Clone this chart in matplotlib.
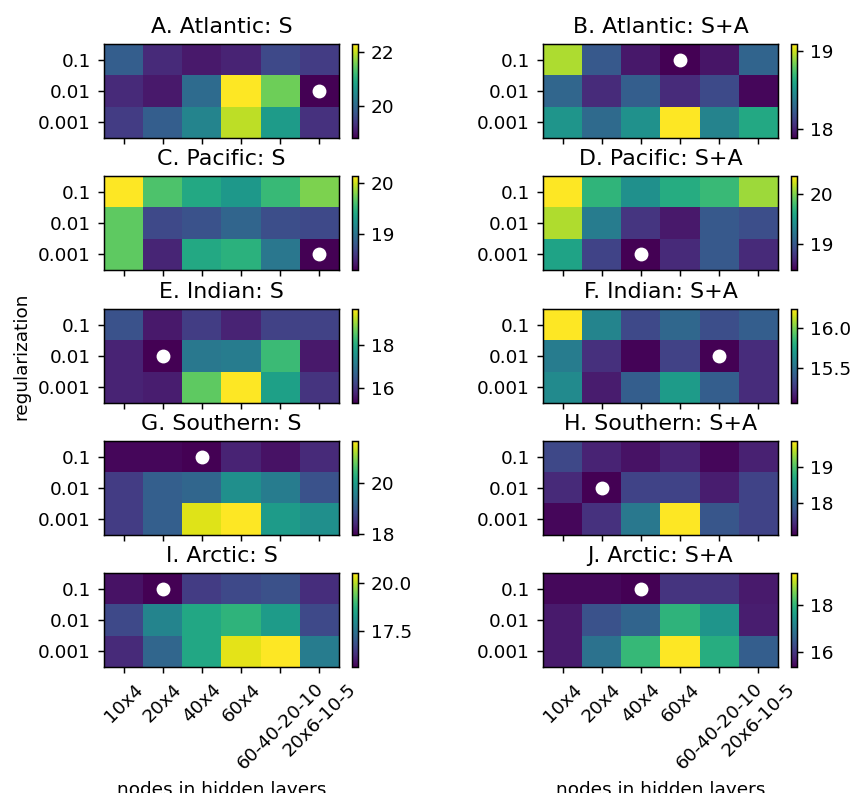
import numpy as np
import matplotlib.pyplot as plt

# validation error grids: rows = regularization, cols = network architecture
regularization = ['0.1', '0.01', '0.001']
architectures = ['10x4', '20x4', '40x4', '60x4', '60-40-20-10', '20x6-10-5']

atlantic_s = [[19.87, 19.25, 19.07, 19.18, 19.59, 19.45],
              [19.25, 19.07, 20.04, 22.30, 21.54, 18.83],
              [19.45, 19.87, 20.39, 21.95, 20.74, 19.32]]
atlantic_sa = [[18.94, 18.22, 17.96, 17.88, 17.95, 18.27],
               [18.28, 18.03, 18.24, 18.03, 18.15, 17.90],
               [18.51, 18.30, 18.49, 19.09, 18.42, 18.61]]
pacific_s = [[20.14, 19.62, 19.40, 19.27, 19.53, 19.77],
             [19.68, 18.69, 18.75, 18.89, 18.73, 18.69],
             [19.68, 18.47, 19.40, 19.47, 19.02, 18.28]]
pacific_sa = [[20.37, 19.71, 19.42, 19.65, 19.76, 20.09],
              [20.14, 19.27, 18.76, 18.60, 19.00, 18.93],
              [19.57, 18.85, 18.47, 18.70, 19.00, 18.70]]
indian_s = [[16.40, 15.60, 16.09, 15.73, 16.17, 16.17],
            [15.73, 15.29, 17.06, 17.15, 18.30, 15.60],
            [15.73, 15.64, 18.61, 19.71, 17.81, 15.95]]
indian_sa = [[16.24, 15.60, 15.33, 15.46, 15.35, 15.42],
             [15.56, 15.23, 15.08, 15.30, 15.07, 15.22],
             [15.63, 15.16, 15.42, 15.71, 15.42, 15.22]]
southern_s = [[18.05, 18.05, 17.98, 18.34, 18.16, 18.41],
              [18.63, 19.07, 19.17, 19.79, 19.50, 18.89],
              [18.63, 19.07, 21.42, 21.60, 19.97, 19.79]]
southern_sa = [[17.68, 17.37, 17.24, 17.37, 17.16, 17.35],
               [17.42, 17.11, 17.63, 17.63, 17.32, 17.63],
               [17.16, 17.48, 18.15, 19.72, 17.81, 17.63]]
arctic_s = [[15.90, 15.66, 16.53, 16.73, 16.87, 16.29],
            [16.73, 17.84, 18.57, 18.81, 18.33, 16.73],
            [16.24, 17.26, 18.57, 20.32, 20.51, 17.70]]
arctic_sa = [[15.45, 15.45, 15.37, 15.96, 15.96, 15.65],
             [15.65, 16.36, 16.64, 17.94, 17.43, 15.69],
             [15.65, 16.87, 18.02, 19.33, 17.83, 16.56]]

panels = [
    ('A. Atlantic: S', atlantic_s), ('B. Atlantic: S+A', atlantic_sa),
    ('C. Pacific: S', pacific_s), ('D. Pacific: S+A', pacific_sa),
    ('E. Indian: S', indian_s), ('F. Indian: S+A', indian_sa),
    ('G. Southern: S', southern_s), ('H. Southern: S+A', southern_sa),
    ('I. Arctic: S', arctic_s), ('J. Arctic: S+A', arctic_sa),
]

W, H = 853, 793
DPI = 133
fig = plt.figure(figsize=(W / DPI, H / DPI), dpi=DPI)


def px_rect(x0, y0, x1, y1):
    return [x0 / W, 1 - y1 / H, (x1 - x0) / W, (y1 - y0) / H]


col_x = [104, 543]
row_top = [44, 176, 309, 441, 573]
ax_w, ax_h = 235, 94

for i, (title, grid) in enumerate(panels):
    r, c = divmod(i, 2)
    x0, y0 = col_x[c], row_top[r]
    ax = fig.add_axes(px_rect(x0, y0, x0 + ax_w, y0 + ax_h))
    cax = fig.add_axes(px_rect(x0 + 248, y0, x0 + 254, y0 + ax_h))

    data = np.array(grid)
    im = ax.imshow(data, cmap='viridis', aspect='auto')
    fig.colorbar(im, cax=cax)

    # mark the best (lowest) configuration
    iy, ix = np.unravel_index(np.argmin(data), data.shape)
    ax.plot(ix, iy, 'o', color='white', markersize=6.5)

    ax.set_title(title, fontsize=12)
    ax.set_yticks(range(len(regularization)))
    ax.set_yticklabels(regularization)
    ax.set_xticks(range(len(architectures)))
    if r == len(row_top) - 1:
        ax.set_xticklabels(architectures, rotation=45)
        ax.set_xlabel('nodes in hidden layers')
    else:
        ax.set_xticklabels([])
    if r == 2 and c == 0:
        ax.set_ylabel('regularization')

fig.savefig('out.png', dpi=DPI)
